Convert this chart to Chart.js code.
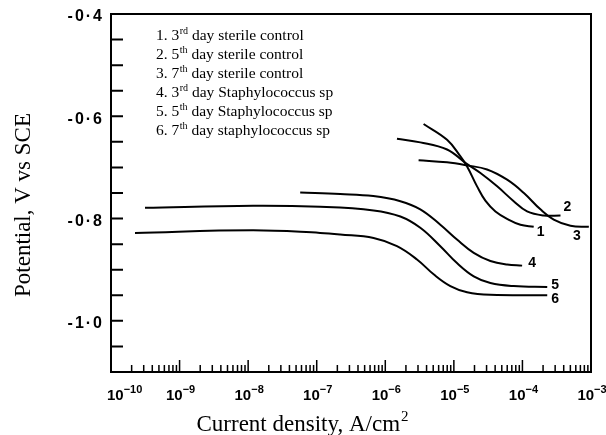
<!DOCTYPE html>
<html>
<head>
<meta charset="utf-8">
<script src="https://cdn.jsdelivr.net/npm/chart.js@4"></script>
<style>
  html, body { margin: 0; padding: 0; background: #fff; }
</style>
</head>
<body>
<canvas id="myChart" width="606" height="435"></canvas>
<script>
// curve numbers and legend text (split as: before superscript, superscript, after)
var curveNames = ['1', '2', '3', '4', '5', '6'];
var legendLines = [
  ['1. 3', 'rd', ' day sterile control'],
  ['2. 5', 'th', ' day sterile control'],
  ['3. 7', 'th', ' day sterile control'],
  ['4. 3', 'rd', ' day Staphylococcus sp'],
  ['5. 5', 'th', ' day Staphylococcus sp'],
  ['6. 7', 'th', ' day staphylococcus sp']
];

// current density (A/cm2) and potential (V vs SCE)
var current1 = [3.62e-6, 7.96e-6, 1.24e-5, 1.56e-5, 2.18e-5, 2.88e-5, 4.04e-5, 6.25e-5, 9.35e-5, 1.46e-4];
var potential1 = [-0.615, -0.646, -0.678, -0.698, -0.737, -0.765, -0.786, -0.802, -0.812, -0.816];

var current2 = [1.48e-6, 3.24e-6, 7.96e-6, 1.47e-5, 2.44e-5, 4.28e-5, 7.46e-5, 1.17e-4, 2.05e-4, 3.59e-4];
var potential2 = [-0.644, -0.651, -0.665, -0.691, -0.711, -0.737, -0.766, -0.786, -0.794, -0.794];

var current3 = [3.06e-6, 7.96e-6, 1.56e-5, 3.05e-5, 5.98e-5, 1.05e-4, 1.83e-4, 2.86e-4, 5.02e-4, 9.3e-4];
var potential3 = [-0.686, -0.690, -0.696, -0.704, -0.724, -0.750, -0.782, -0.802, -0.814, -0.816];

var current4 = [5.74e-8, 2.2e-7, 6.68e-7, 1.66e-6, 3.24e-6, 6.35e-6, 1.11e-5, 1.95e-5, 3.41e-5, 5.98e-5, 9.9e-5];
var potential4 = [-0.749, -0.752, -0.756, -0.766, -0.782, -0.812, -0.841, -0.867, -0.883, -0.890, -0.892];

var current5 = [3.13e-10, 1.18e-8, 1.12e-7, 6.75e-7, 1.66e-6, 3.24e-6, 6.35e-6, 1.11e-5, 1.95e-5, 3.41e-5, 7.46e-5, 2.3e-4];
var potential5 = [-0.779, -0.775, -0.777, -0.784, -0.796, -0.818, -0.854, -0.887, -0.913, -0.926, -0.932, -0.934];

var current6 = [2.24e-10, 1.18e-8, 1.12e-7, 2.2e-7, 6.75e-7, 1.48e-6, 2.9e-6, 5.07e-6, 8.89e-6, 1.56e-5, 3.41e-5, 2.3e-4];
var potential6 = [-0.828, -0.823, -0.828, -0.831, -0.838, -0.854, -0.880, -0.909, -0.932, -0.944, -0.949, -0.950];

// axes
var xDecades = [-10, -9, -8, -7, -6, -5, -4, -3];
var xTickBase = '10';
var xTickExponents = ['−10', '−9', '−8', '−7', '−6', '−5', '−4', '−3'];
var yTickValues = [-1.0, -0.8, -0.6, -0.4];
var yTickLabels = ['-1·0', '-0·8', '-0·6', '-0·4'];
var xTitle = ['Current density, A/cm', '2'];
var yTitle = 'Potential, V vs SCE';

var currents = [current1, current2, current3, current4, current5, current6];
var potentials = [potential1, potential2, potential3, potential4, potential5, potential6];

function toPoints(xs, ys) {
  return xs.map(function(v, i) { return { x: v, y: ys[i] }; });
}

// where the curve numbers sit, relative to each curve's last point
var numberOffsets = [[7, 5], [7, -8], [-12, 9], [10, -2], [8, -2], [8, 4]];

var extras = {
  id: 'extras',
  beforeDraw: function(chart) {
    chart.ctx.letterSpacing = '2px';
  },
  beforeDatasetsDraw: function(chart) {
    chart.ctx.letterSpacing = '0px';
  },
  afterDatasetsDraw: function(chart) {
    var ctx = chart.ctx, a = chart.chartArea;
    var xs = chart.scales.x, ys = chart.scales.y;
    ctx.save();
    ctx.letterSpacing = '0px';
    ctx.strokeStyle = '#000';
    ctx.fillStyle = '#000';

    // frame
    ctx.lineWidth = 2;
    ctx.strokeRect(a.left, a.top, a.right - a.left, a.bottom - a.top);

    // inward ticks
    ctx.beginPath();
    ys.ticks.forEach(function(t) {
      var py = ys.getPixelForValue(t.value);
      if (py <= a.top + 1 || py >= a.bottom - 1) return;
      ctx.moveTo(a.left, py);
      ctx.lineTo(a.left + 12, py);
    });
    ctx.stroke();
    ctx.lineWidth = 1.5;
    ctx.beginPath();
    xs.ticks.forEach(function(t) {
      var px = xs.getPixelForValue(t.value);
      if (px <= a.left + 1 || px >= a.right - 1) return;
      ctx.moveTo(px, a.bottom);
      ctx.lineTo(px, a.bottom - (t.major ? 12 : 7));
    });
    ctx.stroke();

    // x tick labels: 10 with a raised exponent
    ctx.textBaseline = 'alphabetic';
    ctx.textAlign = 'left';
    var baseFont = 'bold 15px "Liberation Sans", Arial, sans-serif';
    var expFont = 'bold 11px "Liberation Sans", Arial, sans-serif';
    xs.ticks.forEach(function(t) {
      if (!t.major) return;
      var k = xDecades.indexOf(Math.round(Math.log10(t.value)));
      if (k < 0) return;
      var px = xs.getPixelForValue(t.value);
      ctx.font = baseFont;
      var wb = ctx.measureText(xTickBase).width;
      ctx.font = expFont;
      var we = ctx.measureText(xTickExponents[k]).width;
      var left = Math.max(px + 1 - (wb + we) / 2, a.left - 4);
      ctx.font = baseFont;
      ctx.fillText(xTickBase, left, 400);
      ctx.font = expFont;
      ctx.fillText(xTickExponents[k], left + wb, 393);
    });

    // curve numbers
    ctx.font = 'bold 14px "Liberation Sans", Arial, sans-serif';
    ctx.textAlign = 'center';
    ctx.textBaseline = 'middle';
    chart.data.datasets.forEach(function(ds, i) {
      var pts = chart.getDatasetMeta(i).data;
      var last = pts[pts.length - 1];
      ctx.fillText(curveNames[i], last.x + numberOffsets[i][0], last.y + numberOffsets[i][1]);
    });

    // legend block
    ctx.textAlign = 'left';
    ctx.textBaseline = 'alphabetic';
    legendLines.forEach(function(parts, i) {
      var x = a.left + 45, y = a.top + 26 + i * 19;
      ctx.font = '15.5px "Liberation Serif", "Times New Roman", serif';
      ctx.fillText(parts[0], x, y);
      x += ctx.measureText(parts[0]).width + 0.5;
      ctx.font = '10px "Liberation Serif", "Times New Roman", serif';
      ctx.fillText(parts[1], x, y - 6);
      x += ctx.measureText(parts[1]).width;
      ctx.font = '15.5px "Liberation Serif", "Times New Roman", serif';
      ctx.fillText(parts[2], x, y);
    });

    // axis titles
    ctx.font = '23px "Liberation Serif", "Times New Roman", serif';
    var w0 = ctx.measureText(xTitle[0]).width;
    ctx.font = '15px "Liberation Serif", "Times New Roman", serif';
    var w1 = ctx.measureText(xTitle[1]).width;
    var cx = 302, bx = cx - (w0 + w1) / 2;
    ctx.font = '23px "Liberation Serif", "Times New Roman", serif';
    ctx.fillText(xTitle[0], bx, 431);
    ctx.font = '15px "Liberation Serif", "Times New Roman", serif';
    ctx.fillText(xTitle[1], bx + w0 + 1, 421);

    ctx.translate(30, 205);
    ctx.rotate(-Math.PI / 2);
    ctx.font = '23px "Liberation Serif", "Times New Roman", serif';
    ctx.textAlign = 'center';
    ctx.fillText(yTitle, 0, 0);
    ctx.restore();
  }
};

var ctx = document.getElementById('myChart').getContext('2d');
var myChart = new Chart(ctx, {
  type: 'line',
  data: {
    datasets: currents.map(function(c, i) {
      return {
        label: curveNames[i],
        data: toPoints(c, potentials[i]),
        borderColor: '#000',
        borderWidth: 2,
        pointRadius: 0,
        fill: false,
        tension: 0.4
      };
    })
  },
  options: {
    responsive: false,
    animation: false,
    layout: { padding: { top: 14, right: 15, left: 0, bottom: 0 } },
    plugins: {
      legend: { display: false },
      tooltip: { enabled: false },
      title: { display: false }
    },
    scales: {
      x: {
        type: 'logarithmic',
        min: 1e-10,
        max: 1e-3,
        grid: { display: false, drawTicks: false },
        border: { display: false },
        afterBuildTicks: function(scale) {
          var t = [];
          xDecades.forEach(function(e, k) {
            if (k === xDecades.length - 1) {
              t.push({ value: Math.pow(10, e), major: true });
              return;
            }
            for (var m = 1; m <= 9; m++) {
              t.push({ value: m * Math.pow(10, e), major: m === 1 });
            }
          });
          scale.ticks = t;
        },
        afterFit: function(scale) {
          scale.height = 63;
          scale.paddingLeft = 0;
          scale.paddingRight = 0;
        },
        ticks: { display: false, autoSkip: false }
      },
      y: {
        type: 'linear',
        min: -1.1,
        max: -0.4,
        grid: { display: false, drawTicks: false },
        border: { display: false },
        afterBuildTicks: function(scale) {
          var t = [];
          for (var k = 0; k <= 14; k++) {
            t.push({ value: Math.round((-1.1 + k * 0.05) * 100) / 100 });
          }
          scale.ticks = t;
        },
        afterFit: function(scale) {
          scale.width = 111;
          scale.paddingTop = 0;
          scale.paddingBottom = 0;
        },
        ticks: {
          autoSkip: false,
          padding: 7,
          labelOffset: 3,
          color: '#000',
          font: { family: '"Liberation Sans", Arial, sans-serif', size: 16, weight: 'bold' },
          callback: function(value) {
            for (var i = 0; i < yTickValues.length; i++) {
              if (Math.abs(yTickValues[i] - value) < 1e-6) return yTickLabels[i];
            }
            return '';
          }
        }
      }
    }
  },
  plugins: [extras]
});
</script>
</body>
</html>
